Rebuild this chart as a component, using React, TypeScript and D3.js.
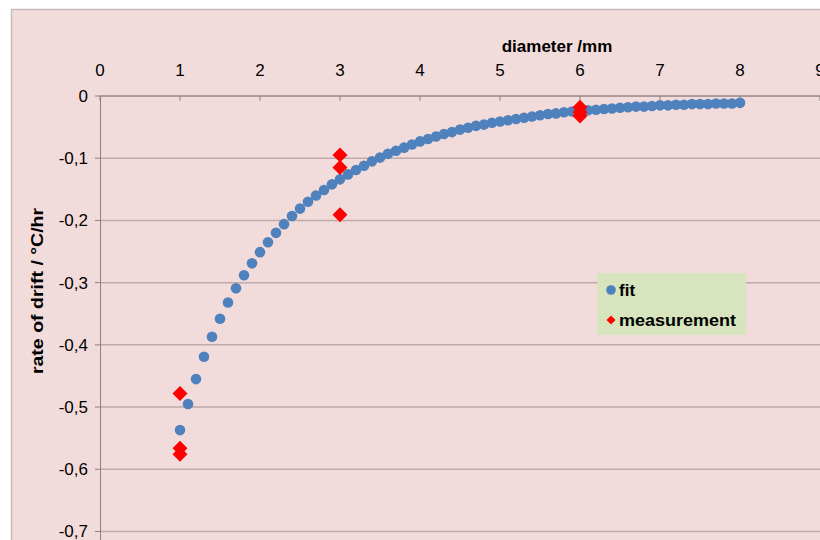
import React from "react";
import * as d3 from "d3";

const fitX: number[] = [
  1.0, 1.1, 1.2, 1.3, 1.4, 1.5, 1.6, 1.7, 1.8, 1.9,
  2.0, 2.1, 2.2, 2.3, 2.4, 2.5, 2.6, 2.7, 2.8, 2.9,
  3.0, 3.1, 3.2, 3.3, 3.4, 3.5, 3.6, 3.7, 3.8, 3.9,
  4.0, 4.1, 4.2, 4.3, 4.4, 4.5, 4.6, 4.7, 4.8, 4.9,
  5.0, 5.1, 5.2, 5.3, 5.4, 5.5, 5.6, 5.7, 5.8, 5.9,
  6.0, 6.1, 6.2, 6.3, 6.4, 6.5, 6.6, 6.7, 6.8, 6.9,
  7.0, 7.1, 7.2, 7.3, 7.4, 7.5, 7.6, 7.7, 7.8, 7.9, 8.0,
];
const fitY: number[] = [
  -0.537, -0.495, -0.455, -0.419, -0.387, -0.358, -0.332, -0.309, -0.288, -0.269,
  -0.251, -0.235, -0.22, -0.206, -0.193, -0.181, -0.17, -0.16, -0.151, -0.142,
  -0.134, -0.126, -0.119, -0.112, -0.105, -0.099, -0.093, -0.088, -0.083, -0.078,
  -0.073, -0.069, -0.065, -0.061, -0.058, -0.054, -0.051, -0.048, -0.046, -0.043,
  -0.041, -0.039, -0.037, -0.035, -0.033, -0.031, -0.029, -0.028, -0.026, -0.025,
  -0.024, -0.023, -0.022, -0.021, -0.02, -0.019, -0.018, -0.017, -0.017, -0.016,
  -0.015, -0.015, -0.014, -0.014, -0.013, -0.013, -0.013, -0.012, -0.012, -0.012, -0.011,
];
const measX: number[] = [1, 1, 1, 3, 3, 3, 6, 6, 6];
const measY: number[] = [-0.478, -0.566, -0.576, -0.095, -0.115, -0.191, -0.018, -0.026, -0.032];

const xTicks: number[] = [0, 1, 2, 3, 4, 5, 6, 7, 8, 9];
const yTicks: number[] = [0, -0.1, -0.2, -0.3, -0.4, -0.5, -0.6, -0.7];

const FONT = "'Liberation Sans', Arial, sans-serif";

export default function App() {
  const x = d3.scaleLinear().domain([0, 9]).range([100, 820]);
  const y = d3.scaleLinear().domain([0, -0.7]).range([96, 531.5]);
  const fmt = (v: number) => (v === 0 ? "0" : d3.format(".1f")(v).replace(".", ",").replace("−", "-"));
  const diamond = (h: number) => `M0,${-h}L${h},0L0,${h}L${-h},0Z`;

  return (
    <svg width={820} height={540} style={{ position: "absolute", left: 0, top: 0 }} fontFamily={FONT}>
      <rect x={0} y={0} width={820} height={540} fill="#ffffff" />
      <rect x={11.5} y={9.5} width={830} height={560} fill="#f2dcdb" stroke="#c4bcbc" strokeWidth={1.5} />
      {/* gridlines */}
      {yTicks.map((t) => (
        <line key={"g" + t} x1={100} x2={820} y1={y(t)} y2={y(t)} stroke="#bfa9a9" strokeWidth={1.5} />
      ))}
      {/* left axis */}
      <line x1={100.5} x2={100.5} y1={96} y2={540} stroke="#8c8080" strokeWidth={1} />
      {yTicks.map((t) => (
        <g key={"yt" + t}>
          <line x1={95} x2={100} y1={y(t)} y2={y(t)} stroke="#8c8080" />
          <text x={88} y={y(t)} dy="0.35em" textAnchor="end" fontSize={17} fill="#000">
            {fmt(t)}
          </text>
        </g>
      ))}
      {/* top axis */}
      <line x1={100} x2={820} y1={96} y2={96} stroke="#8c8080" strokeWidth={1} />
      {xTicks.map((t) => (
        <g key={"xt" + t}>
          <line x1={x(t)} x2={x(t)} y1={96} y2={101} stroke="#8c8080" />
          <text x={x(t)} y={76} textAnchor="middle" fontSize={17} fill="#000">
            {t}
          </text>
        </g>
      ))}
      <text x={557} y={52} textAnchor="middle" fontSize={17} fontWeight="bold" fill="#000">
        diameter /mm
      </text>
      <text
        transform={`translate(43,291) rotate(-90) scale(1.15,1)`}
        textAnchor="middle"
        fontSize={17}
        fontWeight="bold"
        fill="#000"
      >
        rate of drift / °C/hr
      </text>
      {/* fit points */}
      {fitX.map((v, i) => (
        <circle key={"f" + i} cx={x(v)} cy={y(fitY[i])} r={5.3} fill="#4f81bd" />
      ))}
      {/* measurements */}
      {measX.map((v, i) => (
        <path key={"m" + i} d={diamond(7.5)} transform={`translate(${x(v)},${y(measY[i])})`} fill="#ff0000" />
      ))}
      {/* legend */}
      <rect x={597} y={273} width={149} height={62} fill="#d7e4bd" />
      <circle cx={611} cy={290} r={4.8} fill="#4f81bd" />
      <text x={619} y={290} dy="0.35em" fontSize={17} fontWeight="bold" fill="#000">
        fit
      </text>
      <path d={diamond(4.5)} transform="translate(611,320)" fill="#ff0000" />
      <text transform="translate(619,320) scale(1.06,1)" dy="0.35em" fontSize={17} fontWeight="bold" fill="#000">
        measurement
      </text>
    </svg>
  );
}
